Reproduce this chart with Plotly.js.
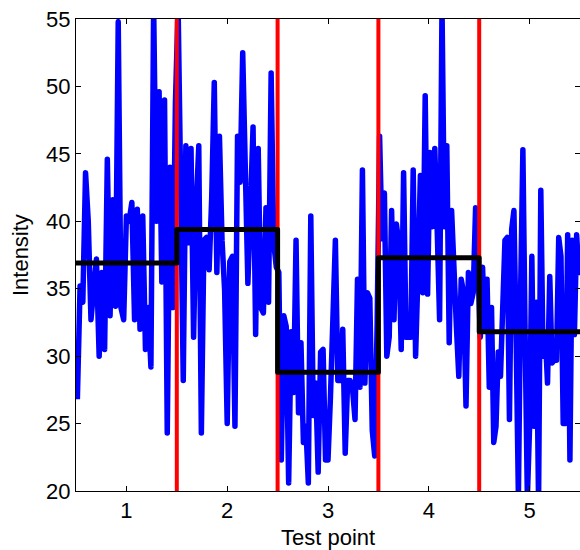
<!DOCTYPE html>
<html>
<head>
<meta charset="utf-8">
<script src="https://cdn.plot.ly/plotly-3.0.1.min.js"></script>
<style>html,body{margin:0;padding:0;background:#fff;}#chart{width:580px;height:550px;}
path.js-line{stroke-linejoin:round;}</style>
</head>
<body>
<div id="chart"></div>
<script>
// Test points (categories) and segment boundaries
var testPoints = [1, 2, 3, 4, 5];
var boundaries = [1.5, 2.5, 3.5, 4.5];
var xRange = [0.5, 5.5];
var yRange = [20, 55];
var yTicks = [20, 25, 30, 35, 40, 45, 50, 55];
var xTitle = 'Test point';
var yTitle = 'Intensity';

// Raw intensity samples per test point
var seg1 = [26.8, 35.2, 34.0, 43.6, 40.0, 32.7, 35.0, 37.2, 30.0, 36.2, 30.5, 44.6, 33.0, 41.6, 33.7, 54.8, 33.6, 32.7, 40.4, 40.0, 41.4, 32.7, 40.9, 32.0, 40.4, 30.5, 33.6, 29.2, 56.0, 40.0, 49.6, 35.5, 49.0, 24.3, 44.0, 33.6, 48.8];
var seg2 = [56.0, 42.6, 28.2, 45.6, 38.4, 45.4, 31.4, 41.0, 45.6, 24.3, 38.6, 38.8, 36.4, 41.7, 50.3, 36.2, 46.3, 38.6, 34.9, 25.0, 37.0, 37.4, 24.8, 46.3, 42.9, 52.5, 41.7, 35.4, 41.0, 47.0, 31.6, 45.4, 33.6, 33.2, 41.0, 34.0, 51.0, 38.4, 36.6];
var seg3 = [36.2, 22.3, 33.0, 32.2, 20.6, 31.8, 27.3, 38.6, 25.8, 31.0, 23.6, 24.8, 20.6, 40.4, 25.6, 28.0, 21.4, 30.3, 30.5, 22.3, 22.3, 27.0, 34.9, 38.6, 28.2, 28.2, 32.0, 22.8, 28.2, 28.2, 27.5, 25.3, 35.7, 27.7, 43.8, 28.0, 34.7, 34.3, 24.5, 22.6, 32.5];
var seg4 = [46.3, 38.7, 42.1, 30.0, 31.4, 40.8, 32.7, 39.8, 38.4, 30.5, 43.6, 31.4, 31.4, 31.4, 43.8, 30.0, 36.2, 43.4, 34.7, 49.3, 34.6, 45.1, 39.6, 45.4, 39.4, 32.7, 56.0, 39.6, 45.6, 31.0, 40.8, 35.7, 32.2, 28.5, 35.7, 34.7, 26.3, 36.2, 33.9, 34.7, 41.0, 36.6];
var seg5 = [31.4, 36.6, 32.0, 35.7, 27.7, 33.6, 23.6, 24.8, 30.3, 28.5, 33.3, 38.6, 38.8, 25.3, 39.4, 40.8, 31.2, 19.5, 34.9, 45.3, 31.6, 19.5, 24.8, 37.4, 24.8, 34.0, 19.0, 42.3, 30.0, 31.6, 28.0, 35.9, 29.5, 29.7, 29.7, 38.8, 37.4, 25.0, 25.0, 39.0, 22.3, 38.6, 31.6, 39.0, 36.0];

// Mean intensity per test point (black step line)
var means = [36.9, 39.4, 28.8, 37.3, 31.8];

var segments = [seg1, seg2, seg3, seg4, seg5];

// sample positions: spread evenly within each test point's interval
var rawX = [], rawY = [];
segments.forEach(function (seg, k) {
  var c = testPoints[k];
  var n = seg.length;
  for (var i = 0; i < n; i++) {
    rawX.push(c - 0.5 + (i + 0.5) / n);
    rawY.push(seg[i]);
  }
});

// step line
var stepX = [xRange[0]].concat(boundaries, [xRange[1]]);
var stepY = means.concat([means[means.length - 1]]);

// red boundary lines
var redX = [], redY = [];
boundaries.forEach(function (b) {
  redX.push(b, b, null);
  redY.push(yRange[0], yRange[1], null);
});

var traces = [
  {x: rawX, y: rawY, type: 'scatter', mode: 'lines', line: {color: '#0000ff', width: 5.5}, hoverinfo: 'skip'},
  {x: redX, y: redY, type: 'scatter', mode: 'lines', line: {color: '#ff0000', width: 4}, hoverinfo: 'skip'},
  {x: stepX, y: stepY, type: 'scatter', mode: 'lines', line: {color: '#000000', width: 5, shape: 'hv'}, hoverinfo: 'skip'}
];

var fontFam = 'Liberation Sans, Arial, sans-serif';
var titleFont = {family: fontFam, size: 22, color: '#000'};
var layout = {
  width: 580, height: 550,
  margin: {l: 76, r: 0, t: 19, b: 59, pad: 0},
  paper_bgcolor: '#ffffff', plot_bgcolor: '#ffffff',
  showlegend: false,
  font: {family: fontFam, size: 22, color: '#000'},
  xaxis: {
    range: xRange, tickvals: testPoints, ticktext: testPoints.map(String),
    ticks: 'inside', ticklen: 5, tickwidth: 1, tickcolor: '#000',
    showline: true, linecolor: '#000', linewidth: 1, mirror: 'ticks',
    showgrid: false, zeroline: false,
    tickfont: {family: fontFam, size: 22, color: '#000'},
    automargin: false
  },
  yaxis: {
    range: yRange, tickvals: yTicks, ticktext: yTicks.map(String),
    ticks: 'inside', ticklen: 5, tickwidth: 1, tickcolor: '#000',
    showline: true, linecolor: '#000', linewidth: 1, mirror: 'ticks',
    showgrid: false, zeroline: false,
    tickfont: {family: fontFam, size: 22, color: '#000'},
    automargin: false
  },
  annotations: [
    {text: xTitle, xref: 'paper', yref: 'paper', x: 0.5, y: -0.098, xanchor: 'center', yanchor: 'middle', showarrow: false, font: titleFont},
    {text: yTitle, xref: 'paper', yref: 'paper', x: -0.111, y: 0.5, xanchor: 'center', yanchor: 'middle', textangle: -90, showarrow: false, font: titleFont}
  ]
};

Plotly.newPlot('chart', traces, layout, {staticPlot: true, displayModeBar: false});
</script>
</body>
</html>
